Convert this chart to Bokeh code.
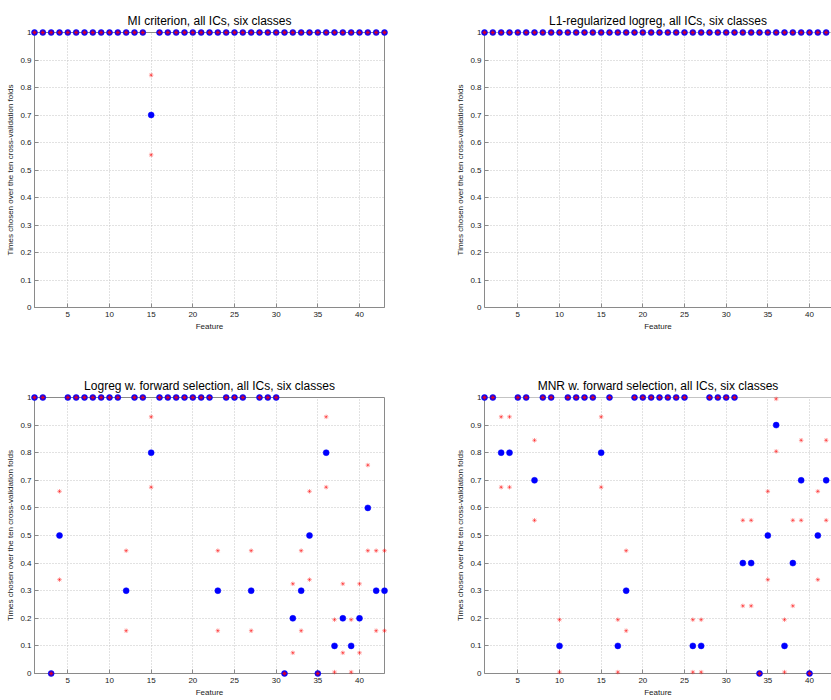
from bokeh.plotting import figure
from bokeh.models import Range1d, FixedTicker, NumeralTickFormatter, Span
from bokeh.layouts import column, row
from bokeh.embed import file_html
from bokeh.resources import INLINE

FONT = "Liberation Sans"

y_ticks = [0, 0.1, 0.2, 0.3, 0.4, 0.5, 0.6, 0.7, 0.8, 0.9, 1]
x_ticks = [5, 10, 15, 20, 25, 30, 35, 40]

feat43 = list(range(1, 44))
feat42 = list(range(1, 43))

# Panel 1: MI criterion
mi_mean = [1, 1, 1, 1, 1, 1, 1, 1, 1, 1, 1, 1, 1, 1, 0.7, 1, 1, 1, 1, 1, 1, 1,
           1, 1, 1, 1, 1, 1, 1, 1, 1, 1, 1, 1, 1, 1, 1, 1, 1, 1, 1, 1, 1]
mi_hi = [1, 1, 1, 1, 1, 1, 1, 1, 1, 1, 1, 1, 1, 1, 0.845, 1, 1, 1, 1, 1, 1, 1,
         1, 1, 1, 1, 1, 1, 1, 1, 1, 1, 1, 1, 1, 1, 1, 1, 1, 1, 1, 1, 1]
mi_lo = [1, 1, 1, 1, 1, 1, 1, 1, 1, 1, 1, 1, 1, 1, 0.555, 1, 1, 1, 1, 1, 1, 1,
         1, 1, 1, 1, 1, 1, 1, 1, 1, 1, 1, 1, 1, 1, 1, 1, 1, 1, 1, 1, 1]

# Panel 2: L1-regularized logreg
l1_mean = [1, 1, 1, 1, 1, 1, 1, 1, 1, 1, 1, 1, 1, 1, 1, 1, 1, 1, 1, 1, 1,
           1, 1, 1, 1, 1, 1, 1, 1, 1, 1, 1, 1, 1, 1, 1, 1, 1, 1, 1, 1, 1]
l1_hi = [1, 1, 1, 1, 1, 1, 1, 1, 1, 1, 1, 1, 1, 1, 1, 1, 1, 1, 1, 1, 1,
         1, 1, 1, 1, 1, 1, 1, 1, 1, 1, 1, 1, 1, 1, 1, 1, 1, 1, 1, 1, 1]
l1_lo = [1, 1, 1, 1, 1, 1, 1, 1, 1, 1, 1, 1, 1, 1, 1, 1, 1, 1, 1, 1, 1,
         1, 1, 1, 1, 1, 1, 1, 1, 1, 1, 1, 1, 1, 1, 1, 1, 1, 1, 1, 1, 1]

# Panel 3: Logreg w. forward selection
lr_mean = [1, 1, 0, 0.5, 1, 1, 1, 1, 1, 1, 1, 0.3, 1, 1, 0.8, 1, 1, 1, 1, 1, 1, 1,
           0.3, 1, 1, 1, 0.3, 1, 1, 1, 0, 0.2, 0.3, 0.5, 0, 0.8, 0.1, 0.2, 0.1, 0.2,
           0.6, 0.3, 0.3]
lr_hi = [1, 1, 0, 0.66, 1, 1, 1, 1, 1, 1, 1, 0.445, 1, 1, 0.93, 1, 1, 1, 1, 1, 1, 1,
         0.445, 1, 1, 1, 0.445, 1, 1, 1, 0, 0.325, 0.445, 0.66, 0, 0.93, 0.195, 0.325,
         0.195, 0.325, 0.755, 0.445, 0.445]
lr_lo = [1, 1, 0, 0.34, 1, 1, 1, 1, 1, 1, 1, 0.155, 1, 1, 0.675, 1, 1, 1, 1, 1, 1, 1,
         0.155, 1, 1, 1, 0.155, 1, 1, 1, 0, 0.075, 0.155, 0.34, 0, 0.675, 0.005, 0.075,
         0.005, 0.075, 0.445, 0.155, 0.155]

# Panel 4: MNR w. forward selection
mnr_mean = [1, 1, 0.8, 0.8, 1, 1, 0.7, 1, 1, 0.1, 1, 1, 1, 1, 0.8, 1, 0.1, 0.3, 1, 1, 1,
            1, 1, 1, 1, 0.1, 0.1, 1, 1, 1, 1, 0.4, 0.4, 0, 0.5, 0.9, 0.1, 0.4, 0.7, 0,
            0.5, 0.7]
mnr_hi = [1, 1, 0.93, 0.93, 1, 1, 0.845, 1, 1, 0.195, 1, 1, 1, 1, 0.93, 1, 0.195, 0.445,
          1, 1, 1, 1, 1, 1, 1, 0.195, 0.195, 1, 1, 1, 1, 0.555, 0.555, 0, 0.66, 0.995,
          0.195, 0.555, 0.845, 0, 0.66, 0.845]
mnr_lo = [1, 1, 0.675, 0.675, 1, 1, 0.555, 1, 1, 0.005, 1, 1, 1, 1, 0.675, 1, 0.005, 0.155,
          1, 1, 1, 1, 1, 1, 1, 0.005, 0.005, 1, 1, 1, 1, 0.245, 0.245, 0, 0.34, 0.805,
          0.005, 0.245, 0.555, 0, 0.34, 0.555]

titles = ["MI criterion, all ICs, six classes",
          "L1-regularized logreg, all ICs, six classes",
          "Logreg w. forward selection, all ICs, six classes",
          "MNR w. forward selection, all ICs, six classes"]

AX = "#8a8a8a"
TXT = "#1a1a1a"


def panel(title, feats, mean, lo, hi, left_side, top_row):
    if left_side:
        width, bl, br, x_end = 434, 34, 50, 43
    else:
        width, bl, br, x_end = 397, 50, 0, 42.64
    if top_row:
        height, bt, bb = 352, 32, 45
    else:
        height, bt, bb = 348, 45, 27
    p = figure(width=width, height=height, x_range=Range1d(1, x_end),
               y_range=Range1d(0, 1), output_backend="svg", toolbar_location=None,
               min_border_left=bl, min_border_right=br, min_border_top=bt,
               min_border_bottom=bb, title=title)
    p.title.text_font = FONT
    p.title.text_font_size = "12px"
    p.title.text_font_style = "normal"
    p.title.text_color = "#000000"
    p.title.align = "center"
    p.title.standoff = 10
    p.background_fill_color = "white"
    p.border_fill_color = "white"
    if left_side:
        p.outline_line_color = AX
    else:
        p.outline_line_color = None
        p.add_layout(Span(location=1, dimension="width", line_color=AX, line_width=1))

    p.xaxis.ticker = FixedTicker(ticks=x_ticks)
    p.yaxis.ticker = FixedTicker(ticks=y_ticks)
    p.yaxis.formatter = NumeralTickFormatter(format="0.[0]")
    for ax in (p.xaxis[0], p.yaxis[0]):
        ax.axis_line_color = AX
        ax.major_tick_line_color = AX
        ax.major_tick_in = 4
        ax.major_tick_out = 0
        ax.minor_tick_line_color = None
        ax.major_label_text_font = FONT
        ax.major_label_text_font_size = "8px"
        ax.major_label_text_color = TXT
        ax.axis_label_text_font = FONT
        ax.axis_label_text_font_size = "8px"
        ax.axis_label_text_font_style = "normal"
        ax.axis_label_text_color = TXT
    p.xaxis.major_label_standoff = 4
    p.xaxis.axis_label_standoff = 2
    p.yaxis.major_label_standoff = 3
    p.yaxis.axis_label_standoff = 2
    p.xaxis.axis_label = "Feature"
    p.yaxis.axis_label = "Times chosen over the ten cross-validation folds"

    p.grid.grid_line_color = "#c4c4c4"
    p.grid.grid_line_dash = "1 2"
    p.grid.grid_line_width = 1

    r1 = p.scatter(feats, mean, marker="circle", size=6, fill_color="#0000ff",
                   line_color="#0000ff", line_width=0.5)
    r2 = p.scatter(feats, hi, marker="asterisk", size=4.5, line_color="#ff0000",
                   line_width=0.7, line_alpha=0.6)
    r3 = p.scatter(feats, lo, marker="asterisk", size=4.5, line_color="#ff0000",
                   line_width=0.7, line_alpha=0.6)
    for r in (r1, r2, r3):
        r.level = "overlay"
    return p


p1 = panel(titles[0], feat43, mi_mean, mi_lo, mi_hi, True, True)
p2 = panel(titles[1], feat42, l1_mean, l1_lo, l1_hi, False, True)
p3 = panel(titles[2], feat43, lr_mean, lr_lo, lr_hi, True, False)
p4 = panel(titles[3], feat42, mnr_mean, mnr_lo, mnr_hi, False, False)

layout = column(row(p1, p2), row(p3, p4))
open("out.html", "w").write(file_html(layout, INLINE))
